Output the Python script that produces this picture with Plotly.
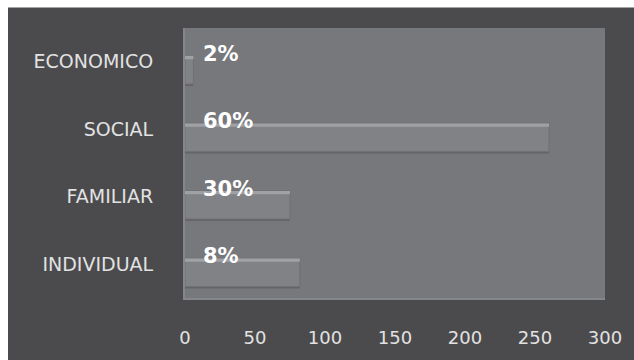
import plotly.graph_objects as go

categories = ["INDIVIDUAL", "FAMILIAR", "SOCIAL", "ECONOMICO"]
values = [82, 75, 260, 6]
pct_labels = ["8%", "30%", "60%", "2%"]
x_ticks = [0, 50, 100, 150, 200, 250, 300]

W, H = 634, 360
ml, mr, mt, mb = 185, 29, 28, 55
pw, ph = W - ml - mr, H - mt - mb

fig = go.Figure()
# shadow
fig.add_trace(go.Bar(y=categories, x=values, orientation="h",
                     marker=dict(color="#646568", line=dict(width=0)),
                     width=0.42, offset=-0.36, hoverinfo="skip"))
# main bar
fig.add_trace(go.Bar(y=categories, x=values, orientation="h",
                     marker=dict(color="#818286", line=dict(color="#707175", width=1)),
                     width=0.42, offset=-0.33, hoverinfo="skip"))
# top highlight
fig.add_trace(go.Bar(y=categories, x=values, orientation="h",
                     marker=dict(color="#a0a1a4", line=dict(width=0)),
                     width=0.05, offset=0.037, hoverinfo="skip"))

for c, t in zip(categories, pct_labels):
    fig.add_annotation(x=0, y=c, text=t, showarrow=False, xanchor="left",
                       xshift=16, yshift=8,
                       font=dict(family="DejaVu Sans", size=21, color="#ffffff", weight="bold"))

# dark chart background inside the white border (top 7px, left 8px)
fig.add_shape(type="rect", xref="paper", yref="paper",
              x0=(8 - ml) / pw, x1=(W - ml) / pw + 0.05,
              y0=-mb / ph - 0.05, y1=1 + (mt - 7) / ph,
              fillcolor="#4b4b4d", line=dict(width=0), layer="below")
# plot wall
fig.add_shape(type="rect", xref="paper", yref="paper",
              x0=0, x1=1, y0=0, y1=1,
              fillcolor="#77787c", line=dict(width=0), layer="below")

fig.update_layout(
    width=W, height=H,
    margin=dict(l=ml, r=mr, t=mt, b=mb),
    paper_bgcolor="#ffffff",
    plot_bgcolor="#77787c",
    barmode="overlay",
    showlegend=False,
    xaxis=dict(range=[0, 300], tickvals=x_ticks, showgrid=False, zeroline=False,
               showline=True, linecolor="#85868a", linewidth=2,
               ticks="", ticklabelstandoff=22,
               tickfont=dict(family="DejaVu Sans", size=18, color="#e2e2e2")),
    yaxis=dict(categoryorder="array", categoryarray=categories, showgrid=False,
               zeroline=False, showline=True, linecolor="#85868a", linewidth=2,
               ticks="", ticklabelstandoff=26, range=[-0.5, 3.5],
               tickfont=dict(family="DejaVu Sans", size=19, color="#e2e2e2")),
)

fig.write_html("out.html", config={"displayModeBar": False})
